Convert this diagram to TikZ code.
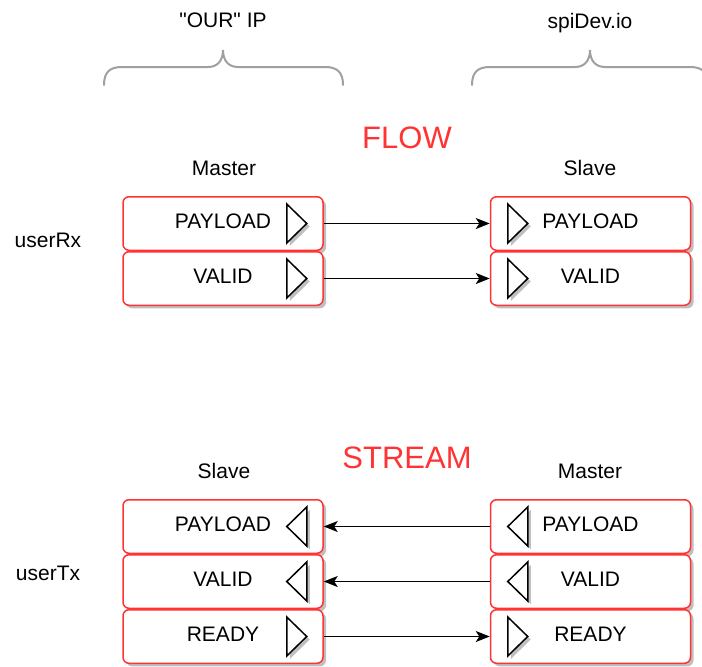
\documentclass[tikz,border=0pt]{standalone}
\usepackage{fontspec}
\setmainfont{Liberation Sans}[Ligatures=TeXOff]
\usetikzlibrary{arrows.meta, shadows, calc, positioning}

\definecolor{sigred}{HTML}{FF3333}
\definecolor{bracegray}{HTML}{A0A0A0}

\tikzset{
	sigbox/.style={draw=sigred, line width=1.5pt, rounded corners=6pt, fill=white,
		minimum width=200pt, minimum height=53.5pt, inner sep=0pt, text depth=5pt,
		font=\fontsize{21}{25}\selectfont,
		drop shadow={shadow xshift=3pt, shadow yshift=-3pt, fill=black, opacity=0.25}},
	port/.style={draw=black, line width=1.5pt, fill=white, line join=miter,
		drop shadow={shadow xshift=3pt, shadow yshift=-3pt, fill=black, opacity=0.25}},
	sigarrow/.style={draw=black, line width=1.4pt, -{Stealth[length=14pt, width=11pt, inset=3.5pt]}},
	lbl/.style={anchor=base, font=\fontsize{21}{25}\selectfont},
	headline/.style={anchor=base, text=sigred, font=\fontsize{31}{36}\selectfont},
	curly/.style={draw=bracegray, line width=2pt, line cap=round}
}

\begin{document}
\begin{tikzpicture}[x=1pt, y=-1pt]

	\useasboundingbox (0,0) rectangle (702,667);

	% Klammern oben
	\draw[curly] (104,85) .. controls (104,72) and (110,67) .. (122,67) -- (208,67)
		.. controls (218,67) and (223,60) .. (223,50)
		.. controls (223,60) and (228,67) .. (238,67) -- (325,67)
		.. controls (337,67) and (343,72) .. (343,85);
	\draw[curly] (472,85) .. controls (472,72) and (478,67) .. (490,67) -- (575,67)
		.. controls (585,67) and (590,60) .. (590,50)
		.. controls (590,60) and (595,67) .. (605,67) -- (690,67)
		.. controls (702,67) and (708,72) .. (708,85);

	\node[lbl](ourIP) at (223,27) {"OUR" IP};
	\node[lbl](spiDev) at (590,28) {spiDev.io};

	\node[headline](flow) at (407,148) {FLOW};
	\node[headline](stream) at (407,468) {STREAM};

	\node[lbl](rxMaster) at (224,175) {Master};
	\node[lbl](rxSlave) at (590,175) {Slave};
	\node[lbl](txSlave) at (224,478) {Slave};
	\node[lbl](txMaster) at (590,478) {Master};

	\node[lbl](userRx) at (48,247) {userRx};
	\node[lbl](userTx) at (48,580) {userTx};

	% userRx
	\node[sigbox](rxMPay) at (223,223.5) {PAYLOAD};
	\node[sigbox, below=0pt of rxMPay](rxMVal) {VALID};
	\node[sigbox](rxSPay) at (590.5,223.5) {PAYLOAD};
	\node[sigbox, below=0pt of rxSPay](rxSVal) {VALID};

	% userTx
	\node[sigbox](txSPay) at (223,526.5) {PAYLOAD};
	\node[sigbox, below=0pt of txSPay](txSVal) {VALID};
	\node[sigbox, below=0pt of txSVal](txSRdy) {READY};
	\node[sigbox](txMPay) at (590.5,526.5) {PAYLOAD};
	\node[sigbox, below=0pt of txMPay](txMVal) {VALID};
	\node[sigbox, below=0pt of txMVal](txMRdy) {READY};

	% Ports, nach rechts
	\draw[port] ($(rxMPay.east)+(-37,-19.5)$) -- ++(20,19.5) -- ++(-20,19.5) -- cycle;
	\draw[port] ($(rxMVal.east)+(-37,-19.5)$) -- ++(20,19.5) -- ++(-20,19.5) -- cycle;
	\draw[port] ($(rxSPay.west)+(18,-19.5)$) -- ++(20,19.5) -- ++(-20,19.5) -- cycle;
	\draw[port] ($(rxSVal.west)+(18,-19.5)$) -- ++(20,19.5) -- ++(-20,19.5) -- cycle;
	\draw[port] ($(txSRdy.east)+(-37,-19.5)$) -- ++(20,19.5) -- ++(-20,19.5) -- cycle;
	\draw[port] ($(txMRdy.west)+(18,-19.5)$) -- ++(20,19.5) -- ++(-20,19.5) -- cycle;

	% Ports, nach links
	\draw[port] ($(txSPay.east)+(-17,-19.5)$) -- ++(-20,19.5) -- ++(20,19.5) -- cycle;
	\draw[port] ($(txSVal.east)+(-17,-19.5)$) -- ++(-20,19.5) -- ++(20,19.5) -- cycle;
	\draw[port] ($(txMPay.west)+(38,-19.5)$) -- ++(-20,19.5) -- ++(20,19.5) -- cycle;
	\draw[port] ($(txMVal.west)+(38,-19.5)$) -- ++(-20,19.5) -- ++(20,19.5) -- cycle;

	% Verbindungen
	\draw[sigarrow] (rxMPay) -- (rxSPay);
	\draw[sigarrow] (rxMVal) -- (rxSVal);
	\draw[sigarrow] (txMPay) -- (txSPay);
	\draw[sigarrow] (txMVal) -- (txSVal);
	\draw[sigarrow] (txSRdy) -- (txMRdy);

\end{tikzpicture}
\end{document}
